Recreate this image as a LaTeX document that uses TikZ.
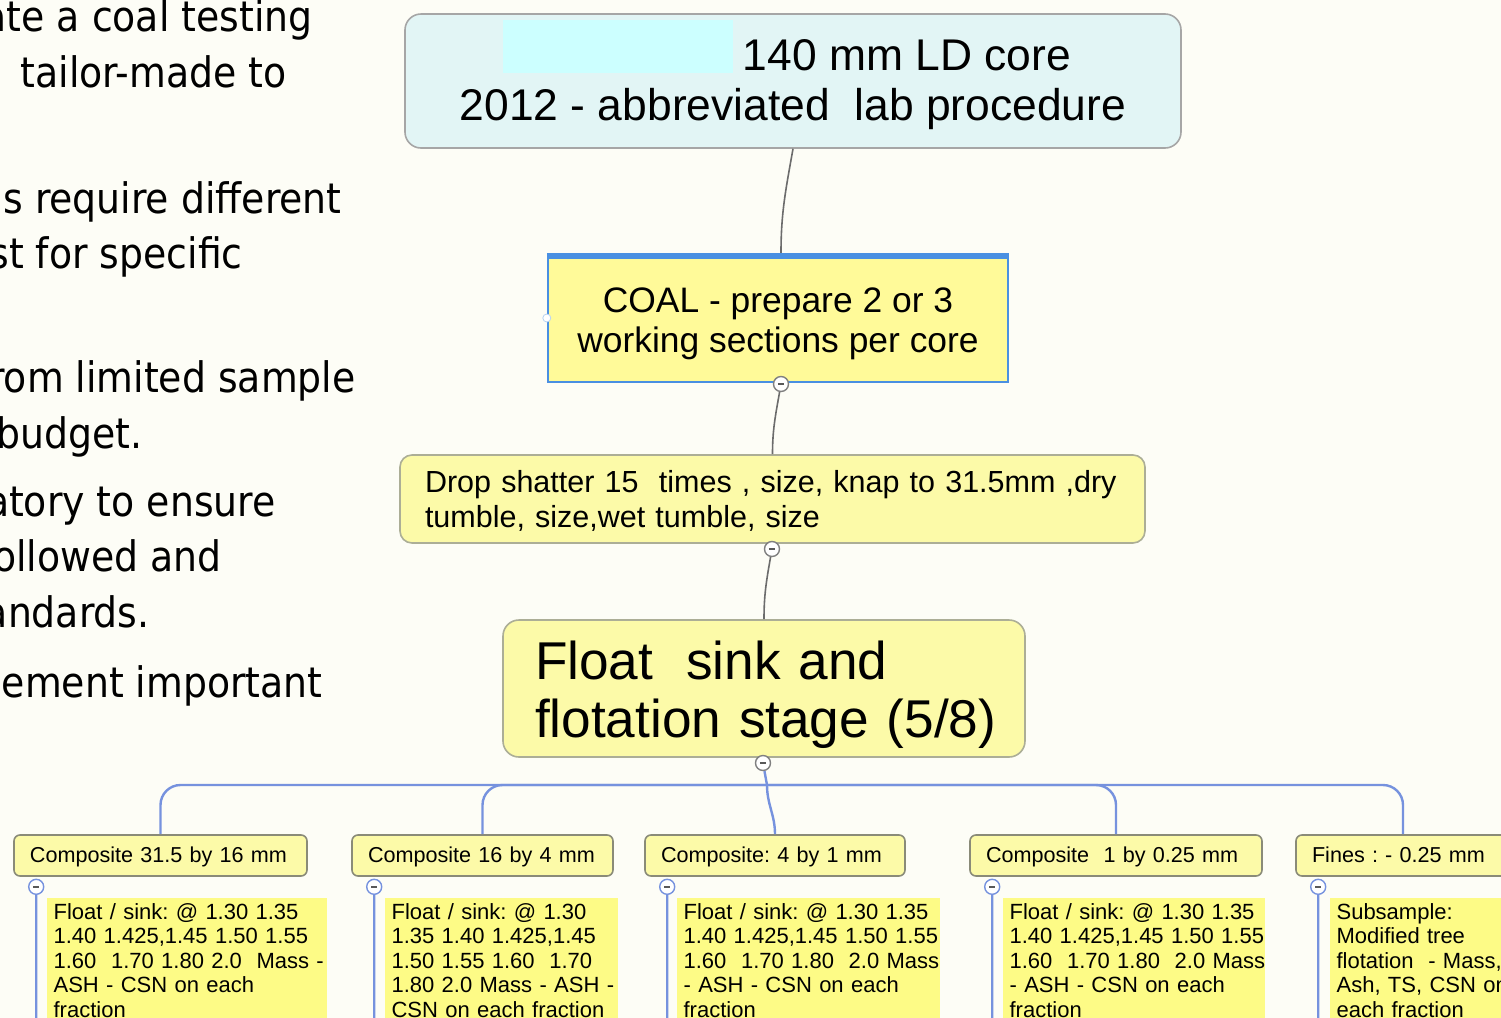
\documentclass[tikz,border=0pt]{standalone}
\usepackage{fontspec}
\setmainfont{Liberation Sans}
\newfontfamily\slidefont{DejaVu Sans Condensed}
\usepackage{tikz}
\usetikzlibrary{calc}
\frenchspacing
\definecolor{paper}{RGB}{253,253,246}
\definecolor{skybox}{RGB}{226,245,245}
\definecolor{hilite}{RGB}{204,255,255}
\definecolor{butter}{RGB}{252,250,168}
\definecolor{mapblue}{RGB}{118,146,222}
\definecolor{coalblue}{RGB}{74,144,226}
\definecolor{rim}{RGB}{172,174,150}
% lines of a box, set as one block and lowered a little inside it
\newcommand\rows[3][0pt]{\raisebox{-#1}[\height][\depth]{\begin{tabular}{@{}#2@{}}#3\end{tabular}}}
\tikzset{
x=0.5pt, y=-0.5pt, % one unit is one pixel of the slide, y runs downwards
slide/.style={font=\slidefont\fontsize{21}{24}\selectfont, inner sep=0pt}, % the cut off slide text on the left
topic/.style={rounded corners=8pt, draw=rim, fill=butter, line width=0.8pt}, % the big yellow steps
link/.style={draw=gray!85!black, line width=0.8pt}, % grey lines of the upper level
branch/.style={draw=mapblue, line width=1.2pt}, % blue lines of the lower level
fold/.style={circle, draw=#1, fill=white, inner sep=0pt, minimum size=7.5pt, line width=0.7pt,
  path picture={\draw[line width=1.1pt, gray!70!black] ([xshift=-1.6pt]path picture bounding box.center) -- ([xshift=1.6pt]path picture bounding box.center);}}, % the little minus buttons
fold/.default=gray,
sizebox/.style={topic, rounded corners=3pt, draw=rim!80!black, minimum height=20.5pt, inner xsep=8pt, align=left, font=\fontsize{10.8}{13}\selectfont}, % the five size fractions
testbox/.style={fill=butter!80!yellow, inner xsep=3.5pt, inner ysep=2pt, align=left, anchor=north west, font=\fontsize{11}{12.25}\selectfont}, % what is done on each fraction
}
\begin{document}
\begin{tikzpicture}
\useasboundingbox (0,0) rectangle (1501,1018);
\clip (0,0) rectangle (1501,1018);
\fill[paper] (0,0) rectangle (1501,1018);

% slide text, cut at the left edge
\foreach \rx/\by/\txt [count=\i] in {313/31/ate a coal testing, 287/87/tailor-made to,
    342/213/s require different, 243/268/st for specific, 356/392/rom limited sample,
    143/448/budget., 276/516/atory to ensure, 222/571/ollowed and, 150/627/andards.,
    323/697/ement important}
  \node[slide, anchor=base east] (line\i) at (\rx,\by) {\txt};

% upper chain
\node[rounded corners=8pt, draw=gray!70, fill=skybox, line width=0.8pt, minimum width=388pt, minimum height=67pt,
  align=center, font=\fontsize{22.2}{25}\selectfont] (core) at (793,81)
  {\rows[2.4pt]{c}{\hspace*{114pt}140 mm LD core\\2012 - abbreviated\ \ lab procedure}};
\fill[hilite] (503,20) rectangle (733,73);
\node[draw=coalblue, line width=1.2pt, fill=yellow!40, minimum width=230pt, minimum height=64pt,
  align=center, font=\fontsize{17.7}{20}\selectfont] (coal) at (778,318)
  {\rows[3.3pt]{c}{COAL - prepare 2 or 3\\working sections per core}};
\draw[coalblue, line width=3pt] ([yshift=-1.5pt]coal.north west) -- ([yshift=-1.5pt]coal.north east);
\node[circle, draw=coalblue!40, fill=white, inner sep=0pt, minimum size=4pt] (grip) at (coal.west) {};
\node[topic, rounded corners=6pt, text width=347.5pt, inner xsep=12.5pt, minimum height=44pt, align=left,
  font=\fontsize{15.25}{17.5}\selectfont] (drop) at (772.5,499)
  {\rows[1.8pt]{l}{Drop shatter 15\ \ times , size, knap to 31.5mm ,dry\\tumble, size,wet tumble, size}};
\node[topic, text width=229pt, inner xsep=16pt, minimum height=68.5pt, align=left,
  font=\fontsize{26.6}{29}\selectfont] (float) at (764,688.5)
  {\rows[4pt]{l}{Float\hspace{0.62em}sink and\\flotation stage (5/8)}};
\node[fold] (fold1) at (781,384) {};
\node[fold] (fold2) at (772,549) {};
\node[fold] (fold3) at (763,763) {};
\draw[link] (core.south) to[out=-100,in=90] ([xshift=1.5pt]coal.north);
\draw[link] (fold1) to[out=-100,in=90] (drop.north);
\draw[link] (fold2) to[out=-100,in=90] (float.north);

% size fractions
\node[sizebox, text width=130.5pt] (k1) at (160.5,855.5) {\rows[1pt]{l}{Composite 31.5 by 16 mm}};
\node[sizebox, text width=114.5pt] (k2) at (482.5,855.5) {\rows[1pt]{l}{Composite 16 by 4 mm}};
\node[sizebox, text width=114pt] (k3) at (775,855.5) {\rows[1pt]{l}{Composite: 4 by 1 mm}};
\node[sizebox, text width=130pt] (k4) at (1116,855.5) {\rows[1pt]{l}{Composite\ \ 1 by 0.25 mm}};
\node[sizebox, text width=91pt] (k5) at (1403,855.5) {\rows[1pt]{l}{Fines : - 0.25 mm}};
\coordinate (bar) at (767,785);
\draw[branch] (fold3) -- (bar);
\draw[branch] (bar) to[out=-90,in=90] (k3.north);
\draw[branch, rounded corners=10pt] (k1.north) |- (bar) -| (k5.north);
\draw[branch, rounded corners=10pt] (k2.north) |- (bar);
\draw[branch, rounded corners=10pt] (k4.north) |- (bar);

% tests on each fraction
\node[testbox, text width=133pt] (t1) at ([shift={(33,21)}]k1.south west)
  {\rows{l}{Float / sink: @ 1.30 1.35\\1.40 1.425,1.45 1.50 1.55\\1.60\ \ 1.70 1.80 2.0\ \ Mass -\\ASH - CSN on each\\fraction}};
\node[testbox, text width=109.5pt] (t2) at ([shift={(33,21)}]k2.south west)
  {\rows{l}{Float / sink: @ 1.30\\1.35 1.40 1.425,1.45\\1.50 1.55 1.60\ \ 1.70\\1.80 2.0 Mass - ASH -\\CSN on each fraction}};
\node[testbox, text width=124.5pt] (t3) at ([shift={(32,21)}]k3.south west)
  {\rows{l}{Float / sink: @ 1.30 1.35\\1.40 1.425,1.45 1.50 1.55\\1.60\ \ 1.70 1.80\ \ 2.0 Mass\\- ASH - CSN on each\\fraction}};
\node[testbox, text width=124pt] (t4) at ([shift={(33,21)}]k4.south west)
  {\rows{l}{Float / sink: @ 1.30 1.35\\1.40 1.425,1.45 1.50 1.55\\1.60\ \ 1.70 1.80\ \ 2.0 Mass\\- ASH - CSN on each\\fraction}};
\node[testbox, text width=100pt] (t5) at ([shift={(34,21)}]k5.south west)
  {\rows{l}{Subsample:\\Modified tree\\flotation\ \ - Mass,\\Ash, TS, CSN on\\each fraction}};
\foreach \i in {1,...,5} {
  \node[fold=mapblue] (kf\i) at ([shift={(23,10)}]k\i.south west) {};
  \draw[branch, rounded corners=5pt] (kf\i) |- (t\i.south west);
}
\end{tikzpicture}
\end{document}
